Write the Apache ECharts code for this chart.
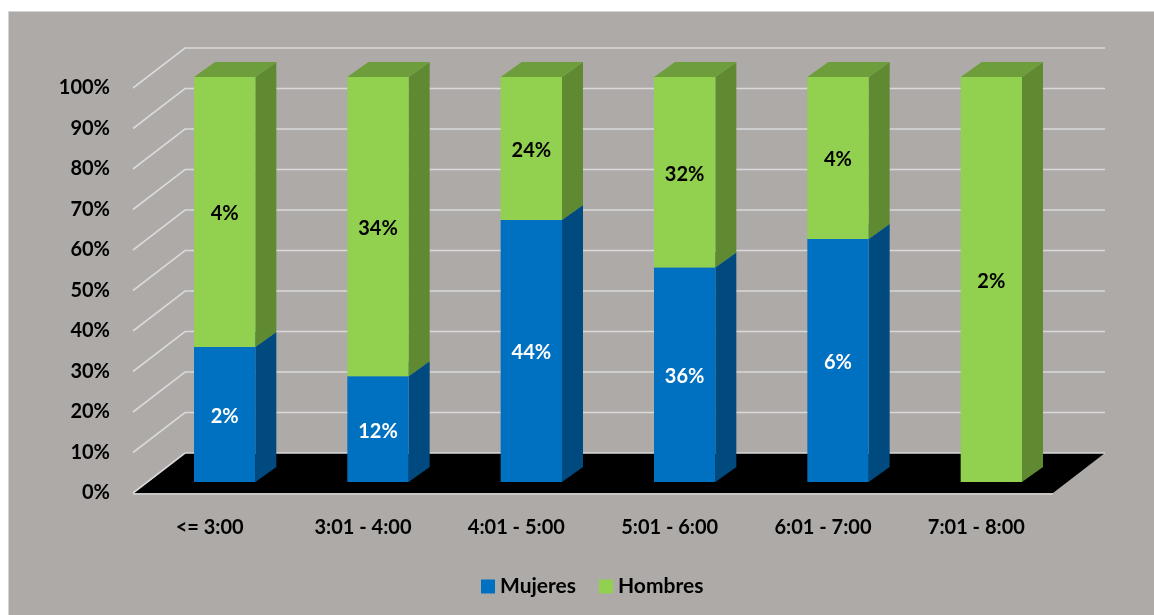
<!DOCTYPE html>
<html>
<head>
<meta charset="utf-8">
<script src="https://cdn.jsdelivr.net/npm/echarts@6/dist/echarts.min.js"></script>
<style>
  html, body { margin: 0; padding: 0; background: #ffffff; }
  #chart { width: 1154px; height: 615px; }
</style>
</head>
<body>
<div id="chart"></div>
<script>
// Time bands and counts per group (labels show the raw values,
// bar heights show each group's share of the band total)
const categories = ['<= 3:00', '3:01 - 4:00', '4:01 - 5:00', '5:01 - 6:00', '6:01 - 7:00', '7:01 - 8:00'];
const mujeres = [2, 12, 44, 36, 6, 0];
const hombres = [4, 34, 24, 32, 4, 2];
const yTicks = [0, 10, 20, 30, 40, 50, 60, 70, 80, 90, 100];

// 3D look: depth offset of the back wall, bar inset from the front plane, bar depth
const WALL_DX = 52, WALL_DY = -40;
const INSET_X = 15, INSET_Y = -11;
const BAR_DX = 21, BAR_DY = -15;
const BAR_RATIO = 0.4;
const FONT = 'Lato, "Open Sans", sans-serif';

const totals = categories.map((_, i) => mujeres[i] + hombres[i]);
const mujShare = mujeres.map((v, i) => totals[i] ? v / totals[i] * 100 : 0);

const mujData = categories.map((_, i) => [i, 0, mujShare[i], mujeres[i]]);
const homData = categories.map((_, i) => [i, mujShare[i], mujShare[i] + (totals[i] ? hombres[i] / totals[i] * 100 : 0), hombres[i]]);

function barRenderer(front, side, top, labelColor) {
  return function (params, api) {
    const i = api.value(0), lo = api.value(1), hi = api.value(2), raw = api.value(3);
    if (hi - lo <= 0) return null;
    const pLo = api.coord([i, lo]);
    const pHi = api.coord([i, hi]);
    const w = api.size([1, 0])[0] * BAR_RATIO;
    const x0 = pLo[0] - w / 2 + INSET_X, x1 = x0 + w;
    const yb = pLo[1] + INSET_Y, yt = pHi[1] + INSET_Y;
    return {
      type: 'group',
      children: [
        { type: 'polygon', shape: { points: [[x1, yb], [x1 + BAR_DX, yb + BAR_DY], [x1 + BAR_DX, yt + BAR_DY], [x1, yt]] },
          style: { fill: side } },
        { type: 'polygon', shape: { points: [[x0, yt], [x1, yt], [x1 + BAR_DX, yt + BAR_DY], [x0 + BAR_DX, yt + BAR_DY]] },
          style: { fill: top } },
        { type: 'rect', shape: { x: x0, y: yt, width: w, height: yb - yt },
          style: { fill: front } },
        { type: 'text', style: { text: raw + '%', x: (x0 + x1) / 2, y: (yb + yt) / 2 + 2,
            align: 'center', verticalAlign: 'middle', fill: labelColor,
            font: 'bold 20px ' + FONT } }
      ]
    };
  };
}

const chart = echarts.init(document.getElementById('chart'), null, { renderer: 'canvas' });

chart.setOption({
  backgroundColor: '#ffffff',
  animation: false,
  graphic: [{
    type: 'rect', left: 8, top: 11, z: -10,
    shape: { width: 1146, height: 604 },
    style: { fill: '#aeaaa8', stroke: '#d4d4d4', lineWidth: 1 }
  }],
  grid: { left: 133, right: 101, top: 88, bottom: 122 },
  legend: {
    left: 476, top: 571,
    itemWidth: 14, itemHeight: 14, itemGap: 23,
    icon: 'rect',
    data: ['Mujeres', 'Hombres'],
    textStyle: { fontFamily: FONT, fontWeight: 'bold', fontSize: 21, color: '#000000' }
  },
  xAxis: {
    type: 'category',
    data: categories,
    axisLine: { show: false },
    axisTick: { show: false },
    axisLabel: { margin: 25, color: '#000000', fontFamily: FONT, fontWeight: 'bold', fontSize: 20 }
  },
  yAxis: {
    type: 'value',
    min: 0, max: 100, interval: 10,
    axisLine: { show: false },
    axisTick: { show: false },
    splitLine: { show: false },
    axisLabel: { margin: 23, formatter: '{value}%', color: '#000000', fontFamily: FONT, fontWeight: 'bold', fontSize: 20 }
  },
  series: [
    {
      // black floor under the bars
      type: 'custom', name: 'floor', z: 1, silent: true,
      data: [[0, 0]],
      renderItem: function (params, api) {
        const cs = params.coordSys;
        const y0 = api.coord([0, 0])[1];
        const xl = cs.x, xr = cs.x + cs.width;
        return {
          type: 'group', children: [
            { type: 'polygon', shape: { points: [[xl, y0], [xr, y0], [xr + WALL_DX, y0 + WALL_DY], [xl + WALL_DX, y0 + WALL_DY]] },
              style: { fill: '#000000' } },
            { type: 'line', shape: { x1: xl, y1: y0 + 1, x2: xr, y2: y0 + 1 },
              style: { stroke: '#d0d0d0', lineWidth: 1.5 } }
          ]
        };
      }
    },
    {
      // side-wall and back-wall gridlines
      type: 'custom', name: 'grid3d', z: 2, silent: true,
      data: yTicks.map(v => [0, v]),
      renderItem: function (params, api) {
        const cs = params.coordSys;
        const y = api.coord([0, api.value(1)])[1];
        const xl = cs.x, xr = cs.x + cs.width;
        return {
          type: 'polyline',
          shape: { points: [[xl, y], [xl + WALL_DX, y + WALL_DY], [xr + WALL_DX, y + WALL_DY]] },
          style: { stroke: '#d9d9d9', lineWidth: 1.6, fill: null }
        };
      }
    },
    {
      type: 'custom', name: 'Mujeres', z: 3,
      itemStyle: { color: '#0070c0' },
      data: mujData,
      renderItem: barRenderer('#0070c0', '#004a80', '#005da0', '#ffffff')
    },
    {
      type: 'custom', name: 'Hombres', z: 4,
      itemStyle: { color: '#92d050' },
      data: homData,
      renderItem: barRenderer('#92d050', '#5f8a32', '#6e9e3c', '#000000')
    }
  ]
});
</script>
</body>
</html>
